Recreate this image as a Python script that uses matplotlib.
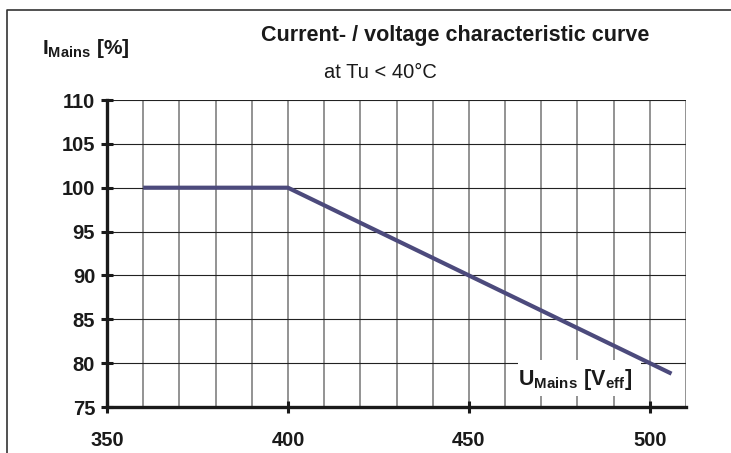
import matplotlib
matplotlib.use("Agg")
import matplotlib.pyplot as plt
from matplotlib.lines import Line2D
from matplotlib.patches import Rectangle

plt.rcParams["font.family"] = ["Liberation Sans", "DejaVu Sans"]
plt.rcParams["mathtext.fontset"] = "custom"
plt.rcParams["mathtext.rm"] = "Liberation Sans:bold"
plt.rcParams["mathtext.bf"] = "Liberation Sans:bold"
plt.rcParams["mathtext.it"] = "Liberation Sans:bold"

# Characteristic: mains voltage (V) vs. permitted mains current (%)
voltage = [360, 400, 506]
current = [100, 100, 78.8]

x_ticks = [350, 400, 450, 500]
y_ticks = [75, 80, 85, 90, 95, 100, 105, 110]
x_grid = list(range(360, 511, 10))

title = "Current- / voltage characteristic curve"
subtitle = "at Tu < 40°C"

W, H = 731, 453
fig = plt.figure(figsize=(W / 100, H / 100), dpi=100)
ax = fig.add_axes([107 / W, 1 - 407 / H, (686 - 107) / W, (407 - 100) / H])

ax.set_xlim(350, 510)
ax.set_ylim(75, 110)

# grid
for xv in x_grid:
    ax.axvline(xv, color="#8a8a8a", lw=1.3, zorder=1)
for yv in y_ticks[1:]:
    ax.axhline(yv, color="#222222", lw=0.8, zorder=1)

ax.plot(voltage, current, color="#4c4a7c", lw=3.0, solid_capstyle="butt", zorder=3)

for s in ["top", "right"]:
    ax.spines[s].set_visible(False)
for s in ["left", "bottom"]:
    ax.spines[s].set_linewidth(2.4)
    ax.spines[s].set_color("#1a1a1a")
    ax.spines[s].set_zorder(4)

ax.set_xticks(x_ticks)
ax.set_yticks(y_ticks)
ax.tick_params(axis="both", direction="inout", length=9, width=2.2, color="#1a1a1a",
               labelsize=14.5, labelcolor="#1a1a1a")
ax.tick_params(axis="x", pad=13)
ax.tick_params(axis="y", pad=4)
for lab in ax.get_xticklabels() + ax.get_yticklabels():
    lab.set_fontweight("bold")

# x-axis label on a white patch inside the plot
ax.add_patch(Rectangle((463.5, 76.2), 34.2, 4.15, fc="white", ec="none", zorder=2))
ax.text(479.3, 78.1, r"$\mathrm{U_{Mains}\ [V_{eff}]}$", fontsize=15.5, color="#1a1a1a",
        ha="center", va="center", zorder=2.5)

# titles and y label
fig.text(455 / W, 1 - 35 / H, title, fontsize=15.5, fontweight="bold", color="#1a1a1a",
         ha="center", va="center")
fig.text(380 / W, 1 - 73 / H, subtitle, fontsize=14.5, color="#1a1a1a",
         ha="center", va="center")
fig.text(42 / W, 1 - 49 / H, r"$\mathrm{I_{Mains}\ [\%]}$", fontsize=15, color="#1a1a1a",
         ha="left", va="center")

# outer frame (top and left edges)
fig.add_artist(Line2D([7 / W, 7 / W, 1.0], [0.0, 1 - 10 / H, 1 - 10 / H],
                      transform=fig.transFigure, color="#333333", lw=1.2))

fig.savefig("out.png", dpi=100)
